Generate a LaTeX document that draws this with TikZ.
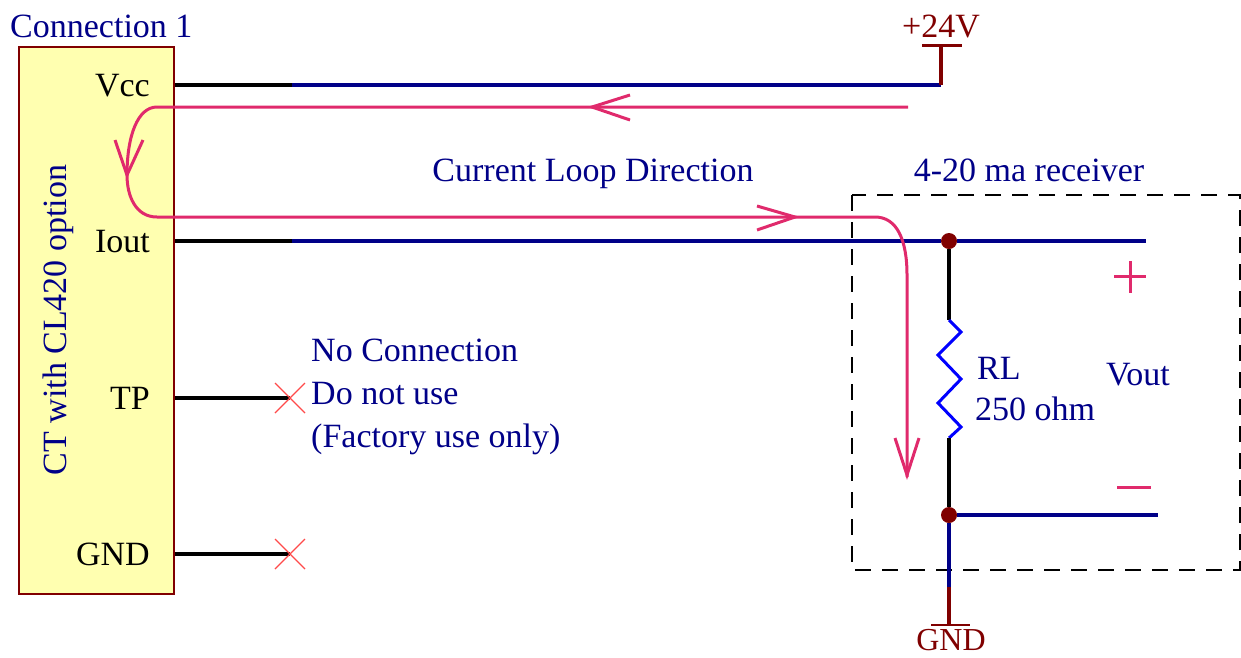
\documentclass[tikz,border=0pt]{standalone}
\usepackage{fontspec}
\setmainfont{Liberation Serif}
\definecolor{wnavy}{HTML}{000088}
\definecolor{wred}{HTML}{800000}
\definecolor{wpink}{HTML}{E02A6C}
\definecolor{wx}{HTML}{FF4A4A}
\definecolor{wbox}{HTML}{FFFFB0}
\tikzset{
  x=1pt,y=-1pt,
  txt/.style={anchor=base,inner sep=0pt,font=\fontsize{34}{34}\selectfont},
  navytxt/.style={txt,text=wnavy},
  blacktxt/.style={txt,text=black},
  redtxt/.style={txt,text=wred},
  wire/.style={line width=3.2pt},
  blackwire/.style={wire,draw=black},
  navywire/.style={wire,draw=wnavy},
  redwire/.style={wire,draw=wred},
  loopline/.style={line width=3pt,draw=wpink},
  cross/.style={line width=1.2pt,draw=wx},
  dot/.style={circle,fill=wred,inner sep=0pt,minimum size=16pt},
  res/.style={line width=3pt,draw=blue!100!black,line join=miter}
}
\begin{document}
\begin{tikzpicture}
\useasboundingbox (0,0) rectangle (1241,657);
% CT box
\node[draw=wred,fill=wbox,line width=1.5pt,minimum width=155pt,minimum height=547pt,inner sep=0pt,anchor=north west] (ct) at (18,46) {};
\node[navytxt,anchor=base west] (title) at (10,37) {Connection 1};
\node[navytxt,rotate=90] (ctlabel) at (66,320) {CT with CL420 option};
\node[blacktxt,anchor=base east] (vcc) at (150,96) {Vcc};
\node[blacktxt,anchor=base east] (iout) at (150,252) {Iout};
\node[blacktxt,anchor=base east] (tp) at (150,409) {TP};
\node[blacktxt,anchor=base east] (gndpin) at (150,565) {GND};
% coordinates
\coordinate (pv) at (175,85);
\coordinate (pvm) at (292,85);
\coordinate (pv1) at (941,85);
\coordinate (pwr) at (941,46);
\coordinate (pi) at (175,241);
\coordinate (pim) at (292,241);
\coordinate (pi1) at (1146,241);
\coordinate (ptp) at (175,398);
\coordinate (ptpx) at (290,398);
\coordinate (pg) at (175,554);
\coordinate (pgx) at (290,554);
\node[dot] (j1) at (949,241) {};
\node[dot] (j2) at (949,515) {};
\coordinate (r1) at (949,320);
\coordinate (r2) at (949,438);
\coordinate (vo) at (1158,515);
\coordinate (gm) at (949,587);
\coordinate (g) at (949,625);
% dashed receiver
\draw[black,line width=1.2pt,dash pattern=on 16pt off 11pt] (852,195) rectangle (1240,570);
% wires
\draw[blackwire] (pv) -- (pvm);
\draw[navywire] (pvm) -- (pv1);
\draw[redwire] (pv1) -- (pwr);
\draw[redwire,line width=2.5pt] (922,45.5) -- (962,45.5);
\draw[blackwire] (pi) -- (pim);
\draw[navywire] (pim) -- (j1) -- (pi1);
\draw[blackwire] (j1) -- (r1);
\draw[res] (r1) -- (961,332) -- (938,355) -- (961,379) -- (938,403) -- (961,427) -- (r2);
\draw[blackwire] (r2) -- (j2);
\draw[navywire] (j2) -- (vo);
\draw[navywire] (j2) -- (gm);
\draw[redwire] (gm) -- (g);
\draw[redwire,line width=2.5pt] (931,625) -- (970,625);
\draw[blackwire] (ptp) -- (ptpx);
\draw[blackwire] (pg) -- (pgx);
\draw[cross] (275,383) -- (305,413) (275,413) -- (305,383);
\draw[cross] (275,539) -- (305,569) (275,569) -- (305,539);
% current loop
\draw[loopline] (908,107) -- (157,107) .. controls (138,107) and (127,135) .. (127,175)
  .. controls (127,195) and (135,217) .. (157,217) -- (875,217)
  .. controls (897,217) and (907,240) .. (907,275) -- (907,477);
\draw[loopline] (630,95) -- (592,107) -- (630,120);
\draw[loopline] (757,206) -- (795,217) -- (757,230);
\draw[loopline] (115,140) -- (127,175) -- (143,140);
\draw[loopline] (895,438) -- (907,475) -- (919,438);
\draw[loopline] (1114,276) -- (1146,276) (1130,261) -- (1130,293);
\draw[loopline] (1117,487) -- (1151,487);
% labels
\node[navytxt] (clabel) at (593,181) {Current Loop Direction};
\node[navytxt] (rxlabel) at (1029,181) {4-20 ma receiver};
\node[redtxt] (p24) at (941,37) {+24V};
\node[redtxt,font=\fontsize{32}{32}\selectfont] (gndl) at (951,650) {GND};
\node[navytxt,anchor=base west] (nc1) at (311,361) {No Connection};
\node[navytxt,anchor=base west] (nc2) at (311,404) {Do not use};
\node[navytxt,anchor=base west] (nc3) at (311,447) {(Factory use only)};
\node[navytxt,anchor=base west] (rl) at (977,379) {RL};
\node[navytxt,anchor=base west] (ohm) at (975,420) {250 ohm};
\node[navytxt] (vout) at (1138,385) {Vout};
\end{tikzpicture}
\end{document}
